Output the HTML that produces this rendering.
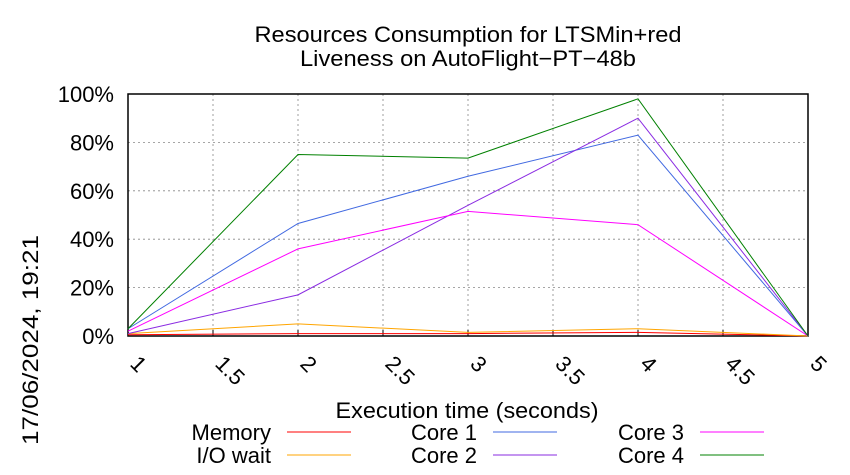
<!DOCTYPE html>
<html><head><meta charset="utf-8"><style>
body{margin:0;background:#fff;}
svg{display:block;font-family:"Liberation Sans",sans-serif;}
</style></head><body>
<svg id="chart" width="850" height="475">
<text x="468" y="42" text-anchor="middle" font-size="22" textLength="427" lengthAdjust="spacingAndGlyphs">Resources Consumption for LTSMin+red</text>
<text x="468" y="66" text-anchor="middle" font-size="22" textLength="336" lengthAdjust="spacingAndGlyphs">Liveness on AutoFlight−PT−48b</text>
<g id="grid"></g>
<g id="axes"></g>
<g id="series"></g>
<text x="467" y="418" text-anchor="middle" font-size="22" textLength="263" lengthAdjust="spacingAndGlyphs">Execution time (seconds)</text>
<text transform="translate(38,445) rotate(-90)" font-size="22" textLength="210" lengthAdjust="spacingAndGlyphs">17/06/2024, 19:21</text>
<g id="legend"></g>
</svg>
<script>
const xs=[1,2,3,4,5];
const memory=[0.5,1,1,1.5,0];
const iowait=[1,5,1.5,3,0];
const core1=[3,46.5,66,83,0];
const core2=[1,17,54,90,0];
const core3=[2,36,51.5,46,0];
const core4=[3,75,73.5,98,0];
const xTicks=[1,1.5,2,2.5,3,3.5,4,4.5,5];
const yTicks=[0,20,40,60,80,100];
const NS="http://www.w3.org/2000/svg";
const X0=128,X1=808,Y0=336,Y1=94;
const sx=v=>X0+(v-1)/4*(X1-X0);
const sy=v=>Y0-v/100*(Y0-Y1);
function mk(t,a,p){const e=document.createElementNS(NS,t);for(const k in a)e.setAttribute(k,a[k]);p.appendChild(e);return e;}
const grid=document.getElementById('grid'),axes=document.getElementById('axes');
xTicks.forEach(t=>{
 const l=mk('line',{x1:sx(t),x2:sx(t),y1:Y0,y2:Y1,stroke:'#888','stroke-width':0.8,'stroke-dasharray':'2,3'},grid);
 
 
 const tk=mk('line',{x1:sx(t),x2:sx(t),y1:Y0,y2:Y0-6,stroke:'#000'},axes);
 
 
 const tx=mk('text',{transform:`translate(${sx(t)+1},${Y0+29}) rotate(45)`,'font-size':22},axes);
 tx.textContent=String(t);
 
 
});
yTicks.forEach(t=>{
 const l=mk('line',{x1:X0,x2:X1,y1:sy(t),y2:sy(t),stroke:'#888','stroke-width':0.8,'stroke-dasharray':'2,3'},grid);
 
 
 const tx=mk('text',{x:X0-14,y:sy(t)+8,'text-anchor':'end','font-size':22},axes);
 tx.textContent=t+'%';
 
 
});
const frame=mk('rect',{x:X0,y:Y1,width:X1-X0,height:Y0-Y1,fill:'none',stroke:'#000','stroke-width':1.5},axes);


const series=[["Memory",memory,"#ff0000"],["I/O wait",iowait,"#ffa500"],["Core 1",core1,"#4169e1"],["Core 2",core2,"#8a2be2"],["Core 3",core3,"#ff00ff"],["Core 4",core4,"#008000"]];
const sg=document.getElementById('series'),lg=document.getElementById('legend');
series.forEach((s,i)=>{
 const p=mk('polyline',{points:xs.map((x,j)=>sx(x)+','+sy(s[1][j])).join(' '),fill:'none',stroke:s[2],'stroke-width':1},sg);
 
 
 const col=Math.floor(i/2),row=i%2;
 const lx=[271,477,684][col],ly=[432,455][row];
 const t=mk('text',{x:lx,y:ly+8,'text-anchor':'end','font-size':22},lg);
 t.textContent=s[0];
 
 
 const l=mk('line',{x1:lx+16,x2:lx+80,y1:ly,y2:ly,stroke:s[2],'stroke-width':1},lg);
 
 
});
</script>
</body></html>
